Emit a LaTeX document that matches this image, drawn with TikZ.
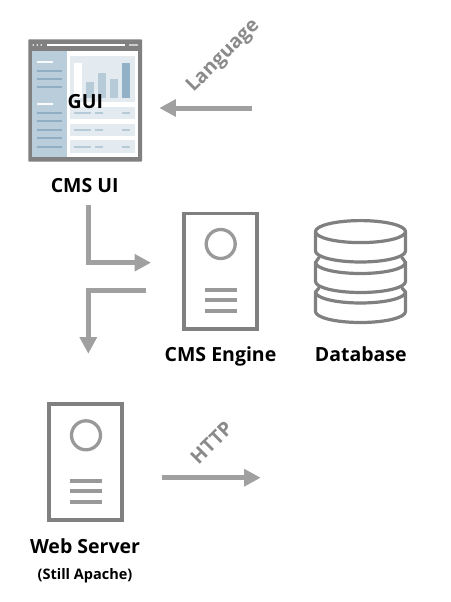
\documentclass[tikz,border=0pt]{standalone}
\usepackage{fontspec}
\setmainfont{Open Sans}
\usetikzlibrary{arrows.meta}
\definecolor{frameg}{HTML}{808080}
\definecolor{icong}{HTML}{999999}
\definecolor{arrowg}{HTML}{A0A0A0}
\definecolor{side}{HTML}{B9CDDB}
\definecolor{sidel}{HTML}{8FAEC4}
\definecolor{panel}{HTML}{E3EBF0}
\definecolor{bar1}{HTML}{B6CAD8}
\definecolor{bar2}{HTML}{93B1C6}
\tikzset{
 flow/.style={draw=arrowg,line width=5pt,-{Triangle[length=16.5pt,width=16.5pt]}},
 lbl/.style={font=\fontsize{19.5}{20}\selectfont\bfseries,text=black,inner sep=0pt,anchor=base},
 rotlbl/.style={font=\fontsize{19.5}{20}\selectfont\bfseries,text=icong!90!black,inner sep=0pt,rotate=45,anchor=center},
 sideline/.style={draw=sidel,line width=2pt},
 sidew/.style={draw=white!90!side,line width=2pt},
 rowline/.style={draw=bar1,line width=2pt},
 serverbox/.style={draw=frameg,line width=3.8pt,fill=white},
 servercirc/.style={draw=icong,line width=3.3pt},
 serverline/.style={draw=icong,line width=4pt},
 dbline/.style={draw=frameg,line width=3.2pt,line join=round,line cap=round}
}
\begin{document}
\begin{tikzpicture}[x=1pt,y=-1pt]
\useasboundingbox (0,0) rectangle (450,602);
\fill[white] (0,0) rectangle (450,602);
% browser
\fill[frameg,rounded corners=0.8pt] (28.3,39.3) rectangle (142,161.7);
\fill[white] (32,51) rectangle (138,157);
\fill[side] (32,51) rectangle (66.7,157);
\foreach \x in {33.3,37.3,41.3}\fill[white] (\x,45) circle (0.9);
\draw[white,line width=1.6pt] (47,45) -- (125.3,45);
\draw[white!60!frameg,line width=1.6pt] (129,45) -- (137.7,45);
\foreach \y in {70.7,79,87.3,113,121.3,129.7,138,146.7}\draw[sideline] (37,\y) -- (61.7,\y);
\foreach \y in {62.3,104.3}\draw[sidew] (37,\y) -- (53.3,\y);
\fill[panel] (70,56) rectangle (134.7,102);
\fill[white] (74,63.3) rectangle (82,98.3);
\fill[bar1] (86,82.3) rectangle (94,98.3);
\fill[bar1] (98,73) rectangle (106,98.3);
\fill[bar1] (110,79) rectangle (118,98.3);
\fill[bar2] (122,63.3) rectangle (130,98.3);
\foreach \y/\c in {106.7/113,123.7/129.7,140.3/146.7}{
 \fill[panel] (70,\y) rectangle (134.7,\y+12.3);
 \draw[rowline] (74,\c) -- (90.7,\c);
 \draw[rowline] (95,\c) -- (103.3,\c);
 \draw[rowline] (122,\c) -- (130,\c);
}
\node[lbl] (gui) at (85.3,108.3) {GUI};
\node[lbl] (cmsui) at (84.7,192.7) {CMS UI};
% language
\coordinate (langs) at (251.7,108);
\coordinate (lange) at (159.3,108);
\draw[flow] (langs) -- (lange);
\node[rotlbl] (lang) at (223.5,56.5) {Language};
% connectors
\coordinate (a1) at (88.2,205);
\coordinate (a2) at (151,262.7);
\draw[flow] (a1) |- (a2);
\coordinate (b1) at (146.3,290.7);
\coordinate (b2) at (88.3,353.7);
\draw[flow] (b1) -| (b2);
% engine
\draw[serverbox] (183.8,213.5) rectangle (257,329.3);
\draw[servercirc] (220.7,244) circle (14.5);
\foreach \y in {290.3,300.3,310.7}\draw[serverline] (205,\y) -- (236.7,\y);
\node[lbl] (engine) at (220.5,361) {CMS Engine};
% database
\draw[dbline] (360.5,231.6) ellipse [x radius=45,y radius=11];
\draw[dbline] (315.5,231.6) -- (315.5,251) arc[start angle=180,end angle=0,x radius=45,y radius=11] -- (405.5,231.6);
\draw[dbline] (319,257.5) -- (315.5,262.5) -- (315.5,281.5) arc[start angle=180,end angle=0,x radius=45,y radius=11] -- (405.5,262.5) -- (402,257.5);
\draw[dbline] (315.5,262.5) arc[start angle=180,end angle=0,x radius=45,y radius=11];
\draw[dbline] (319,288) -- (315.5,292) -- (315.5,311.5) arc[start angle=180,end angle=0,x radius=45,y radius=11] -- (405.5,292) -- (402,288);
\draw[dbline] (315.5,292) arc[start angle=180,end angle=0,x radius=45,y radius=11];
\node[lbl] (db) at (360.8,361) {Database};
% web server
\draw[serverbox] (49,404) rectangle (122,520);
\draw[servercirc] (86,435.3) circle (14.5);
\foreach \y in {481.3,491.3,501.7}\draw[serverline] (70,\y) -- (102,\y);
\node[lbl] (web) at (85,553.3) {Web Server};
\node[lbl,font=\fontsize{14.5}{16}\selectfont\bfseries] (apache) at (85,579.5) {(Still Apache)};
\coordinate (h1) at (161.7,477.7);
\coordinate (h2) at (260.7,477.7);
\draw[flow] (h1) -- (h2);
\node[rotlbl] (http) at (211.5,442.5) {HTTP};
\end{tikzpicture}
\end{document}
